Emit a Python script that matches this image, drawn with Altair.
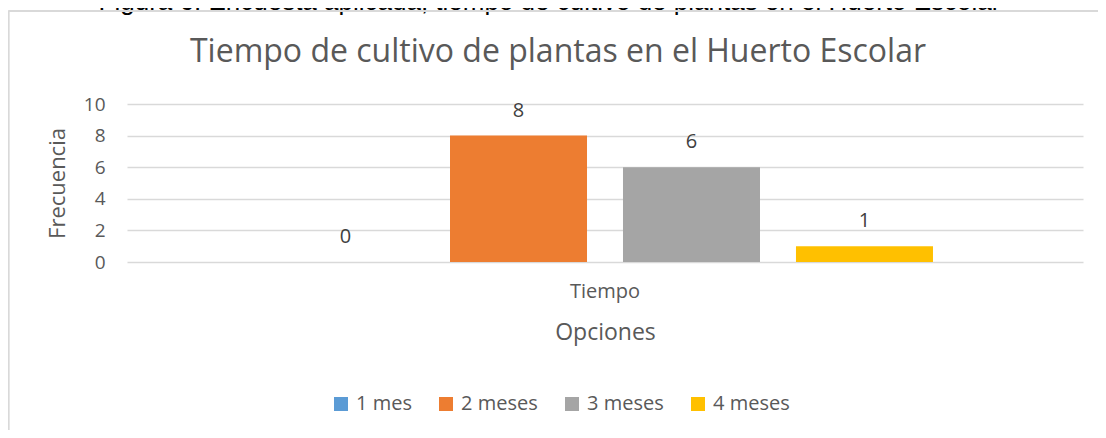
import altair as alt
import pandas as pd

caption = ["Figura 6. Encuesta aplicada, tiempo de cultivo de plantas en el Huerto Escolar"]
chart_title = ["Tiempo de cultivo de plantas en el Huerto Escolar"]
categories = ["Tiempo", "Tiempo", "Tiempo", "Tiempo"]
series = ["1 mes", "2 meses", "3 meses", "4 meses"]
values = [0, 8, 6, 1]
colors = ["#5B9BD5", "#ED7D31", "#A5A5A5", "#FFC000"]
y_ticks = [0, 2, 4, 6, 8, 10]

df = pd.DataFrame({"Opciones": categories, "Serie": series, "Frecuencia": values})
cap_df = pd.DataFrame({"t": caption})
title_df = pd.DataFrame({"t": chart_title})

FONT = "Open Sans"
TXT = "#595959"

x = alt.X(
    "Opciones:N",
    title="Opciones",
    scale=alt.Scale(paddingInner=0, paddingOuter=0.2287),
    axis=alt.Axis(
        labelAngle=0, labelFontSize=20, labelColor=TXT, labelFont=FONT,
        labelPadding=19, ticks=False, domain=False,
        titleFontSize=23, titleFontWeight="normal", titleColor=TXT, titleFont=FONT,
        titlePadding=20,
    ),
)
xo = alt.XOffset("Serie:N", sort=series, scale=alt.Scale(paddingInner=0.208, paddingOuter=0))
y = alt.Y(
    "Frecuencia:Q",
    title="Frecuencia",
    scale=alt.Scale(domain=[0, 10], nice=False),
    axis=alt.Axis(
        values=y_ticks, labelFontSize=19, labelColor=TXT, labelFont=FONT,
        labelPadding=22, ticks=False, domain=False,
        gridColor="#D9D9D9", gridWidth=1.3,
        titleFontSize=22, titleFontWeight="normal", titleColor=TXT, titleFont=FONT,
        titlePadding=14,
    ),
)
color = alt.Color(
    "Serie:N", sort=series,
    scale=alt.Scale(domain=series, range=colors),
    legend=alt.Legend(
        title=None, orient="none", direction="horizontal",
        legendX=204, legendY=290,
        symbolType="square", symbolSize=196, symbolStrokeWidth=0,
        labelFontSize=20, labelColor=TXT, labelFont=FONT,
        columnPadding=24, labelOffset=5,
    ),
)

base = alt.Chart(df)
bars = base.mark_bar().encode(x=x, xOffset=xo, y=y, color=color)
labels = base.mark_text(dy=-25, fontSize=20, color="#404040", font=FONT, baseline="middle").encode(
    x=x, xOffset=xo, y=y, text="Frecuencia:Q"
)
cap = alt.Chart(cap_df).mark_text(
    fontSize=26, color="#000000", font="Liberation Sans", align="center", baseline="alphabetic"
).encode(x=alt.value(422.5), y=alt.value(-94), text="t:N")
ttl = alt.Chart(title_df).mark_text(
    fontSize=32, color=TXT, font=FONT, align="center", baseline="alphabetic"
).encode(x=alt.value(431), y=alt.value(-42), text="t:N")
border_top = base.mark_rule(color="#D9D9D9", strokeWidth=1.5).encode(
    x=alt.value(-118.5), x2=alt.value(975), y=alt.value(-93)
)
border_left = base.mark_rule(color="#D9D9D9", strokeWidth=1.5).encode(
    x=alt.value(-118.5), y=alt.value(-93), y2=alt.value(330)
)

chart = alt.layer(bars, labels, cap, ttl, border_top, border_left).properties(
    width=956, height=158,
    padding={"left": 119, "top": 96, "right": 15, "bottom": 168},
    autosize=alt.AutoSizeParams(type="none"),
).configure_view(stroke=None)

chart.save("out.html", embed_options={"renderer": "svg", "actions": False})
